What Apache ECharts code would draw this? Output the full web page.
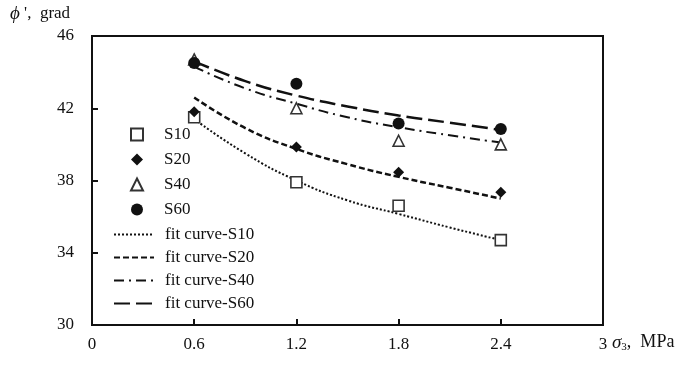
<!DOCTYPE html>
<html>
<head>
<meta charset="utf-8">
<script src="https://cdn.jsdelivr.net/npm/echarts@6/dist/echarts.min.js"></script>
<style>
  html, body { margin: 0; padding: 0; background: #fff; }
  #chart { width: 690px; height: 371px; }
</style>
</head>
<body>
<div id="chart"></div>
<script>
// measured points (sigma3, MPa)
const sigma = [0.6, 1.2, 1.8, 2.4];
const s10 = [41.5, 37.9, 36.6, 34.7];
const s20 = [41.8, 39.85, 38.45, 37.35];
const s40 = [44.7, 42.0, 40.2, 40.0];
const s60 = [44.5, 43.35, 41.15, 40.85];

// fit curves
const fitX = [0.6, 0.9, 1.2, 1.5, 1.8, 2.1, 2.4];
const fit10 = [41.4, 39.5, 38.0, 36.9, 36.15, 35.4, 34.7];
const fit20 = [42.6, 40.9, 39.75, 38.9, 38.2, 37.6, 37.0];
const fit40 = [44.3, 43.1, 42.25, 41.5, 40.95, 40.5, 40.1];
const fit60 = [44.6, 43.5, 42.7, 42.1, 41.6, 41.2, 40.8];

const yTicks = [30, 34, 38, 42, 46];
const xTicks = [0, 0.6, 1.2, 1.8, 2.4, 3];

const pointNames = ["S10", "S20", "S40", "S60"];
const fitNames = ["fit curve-S10", "fit curve-S20", "fit curve-S40", "fit curve-S60"];

const FONT = "Liberation Serif";
const INK = "#111";

const pairs = (xs, ys) => xs.map((x, i) => [x, ys[i]]);

function scatter(name, ys, symbol, filled) {
  return {
    name,
    type: "scatter",
    data: pairs(sigma, ys),
    symbol,
    symbolSize: symbol === "circle" ? 12 : 11,
    symbolKeepAspect: true,
    itemStyle: filled
      ? { color: INK, opacity: 1 }
      : { color: "#fff", borderColor: "#333", borderWidth: 1.6, opacity: 1 },
    z: 4,
  };
}

function fit(name, ys, dash, width) {
  return {
    name,
    type: "line",
    data: pairs(fitX, ys),
    smooth: true,
    symbol: "none",
    itemStyle: { color: INK },
    lineStyle: { color: INK, width, type: dash },
    z: 3,
  };
}

const legendText = { fontFamily: FONT, fontSize: 17, color: INK, lineHeight: 16 };

const chart = echarts.init(document.getElementById("chart"), null, { renderer: "canvas" });
chart.setOption({
  animation: false,
  backgroundColor: "#fff",
  grid: { left: 92, right: 87, top: 36, bottom: 46, show: true, borderColor: INK, borderWidth: 2 },
  textStyle: { fontFamily: FONT },
  legend: [
    {
      orient: "vertical",
      left: 130,
      top: 126,
      padding: 0,
      itemWidth: 12,
      itemHeight: 12,
      itemGap: 8,
      textStyle: Object.assign({ padding: [0, 0, 0, 16] }, legendText),
      data: pointNames,
    },
    {
      orient: "vertical",
      left: 113,
      top: 226,
      padding: 0,
      itemWidth: 40,
      itemHeight: 12,
      itemGap: 6,
      textStyle: Object.assign({ padding: [0, 0, 0, 6] }, legendText),
      data: fitNames.map((name) => ({ name, itemStyle: { opacity: 0 } })),
    },
  ],
  xAxis: {
    type: "value",
    min: xTicks[0],
    max: xTicks[xTicks.length - 1],
    interval: 0.6,
    axisLine: { lineStyle: { color: INK, width: 2 } },
    axisTick: { inside: true, length: 6, lineStyle: { color: INK, width: 2 } },
    axisLabel: { margin: 11, fontFamily: FONT, fontSize: 17, color: INK },
    splitLine: { show: false },
  },
  yAxis: {
    type: "value",
    min: yTicks[0],
    max: yTicks[yTicks.length - 1],
    interval: 4,
    axisLine: { show: true, lineStyle: { color: INK, width: 2 } },
    axisTick: { show: true, inside: true, length: 6, lineStyle: { color: INK, width: 2 } },
    axisLabel: { margin: 18, fontFamily: FONT, fontSize: 17, color: INK },
    splitLine: { show: false },
  },
  graphic: [
    {
      type: "text",
      left: 10,
      top: 4,
      style: {
        text: "{i|\u03d5} ',  grad",
        fontFamily: FONT,
        fontSize: 17,
        fill: INK,
        rich: { i: { fontFamily: FONT, fontStyle: "italic", fontSize: 19, fill: INK } },
      },
    },
    {
      type: "text",
      left: 612,
      top: 333,
      style: {
        text: "{i|\u03c3}{s|3},  MPa",
        fontFamily: FONT,
        fontSize: 18,
        fill: INK,
        rich: {
          i: { fontFamily: FONT, fontStyle: "italic", fontSize: 19, fill: INK },
          s: { fontFamily: FONT, fontSize: 11, fill: INK, padding: [9, 0, 0, 0] },
        },
      },
    },
  ],
  series: [
    scatter("S10", s10, "rect", false),
    scatter("S20", s20, "diamond", true),
    scatter("S40", s40, "triangle", false),
    scatter("S60", s60, "circle", true),
    fit("fit curve-S10", fit10, [2, 2], 2),
    fit("fit curve-S20", fit20, [6, 3], 2.5),
    fit("fit curve-S40", fit40, [10, 5, 2, 5], 2),
    fit("fit curve-S60", fit60, [16, 6], 2.5),
  ],
});
</script>
</body>
</html>
